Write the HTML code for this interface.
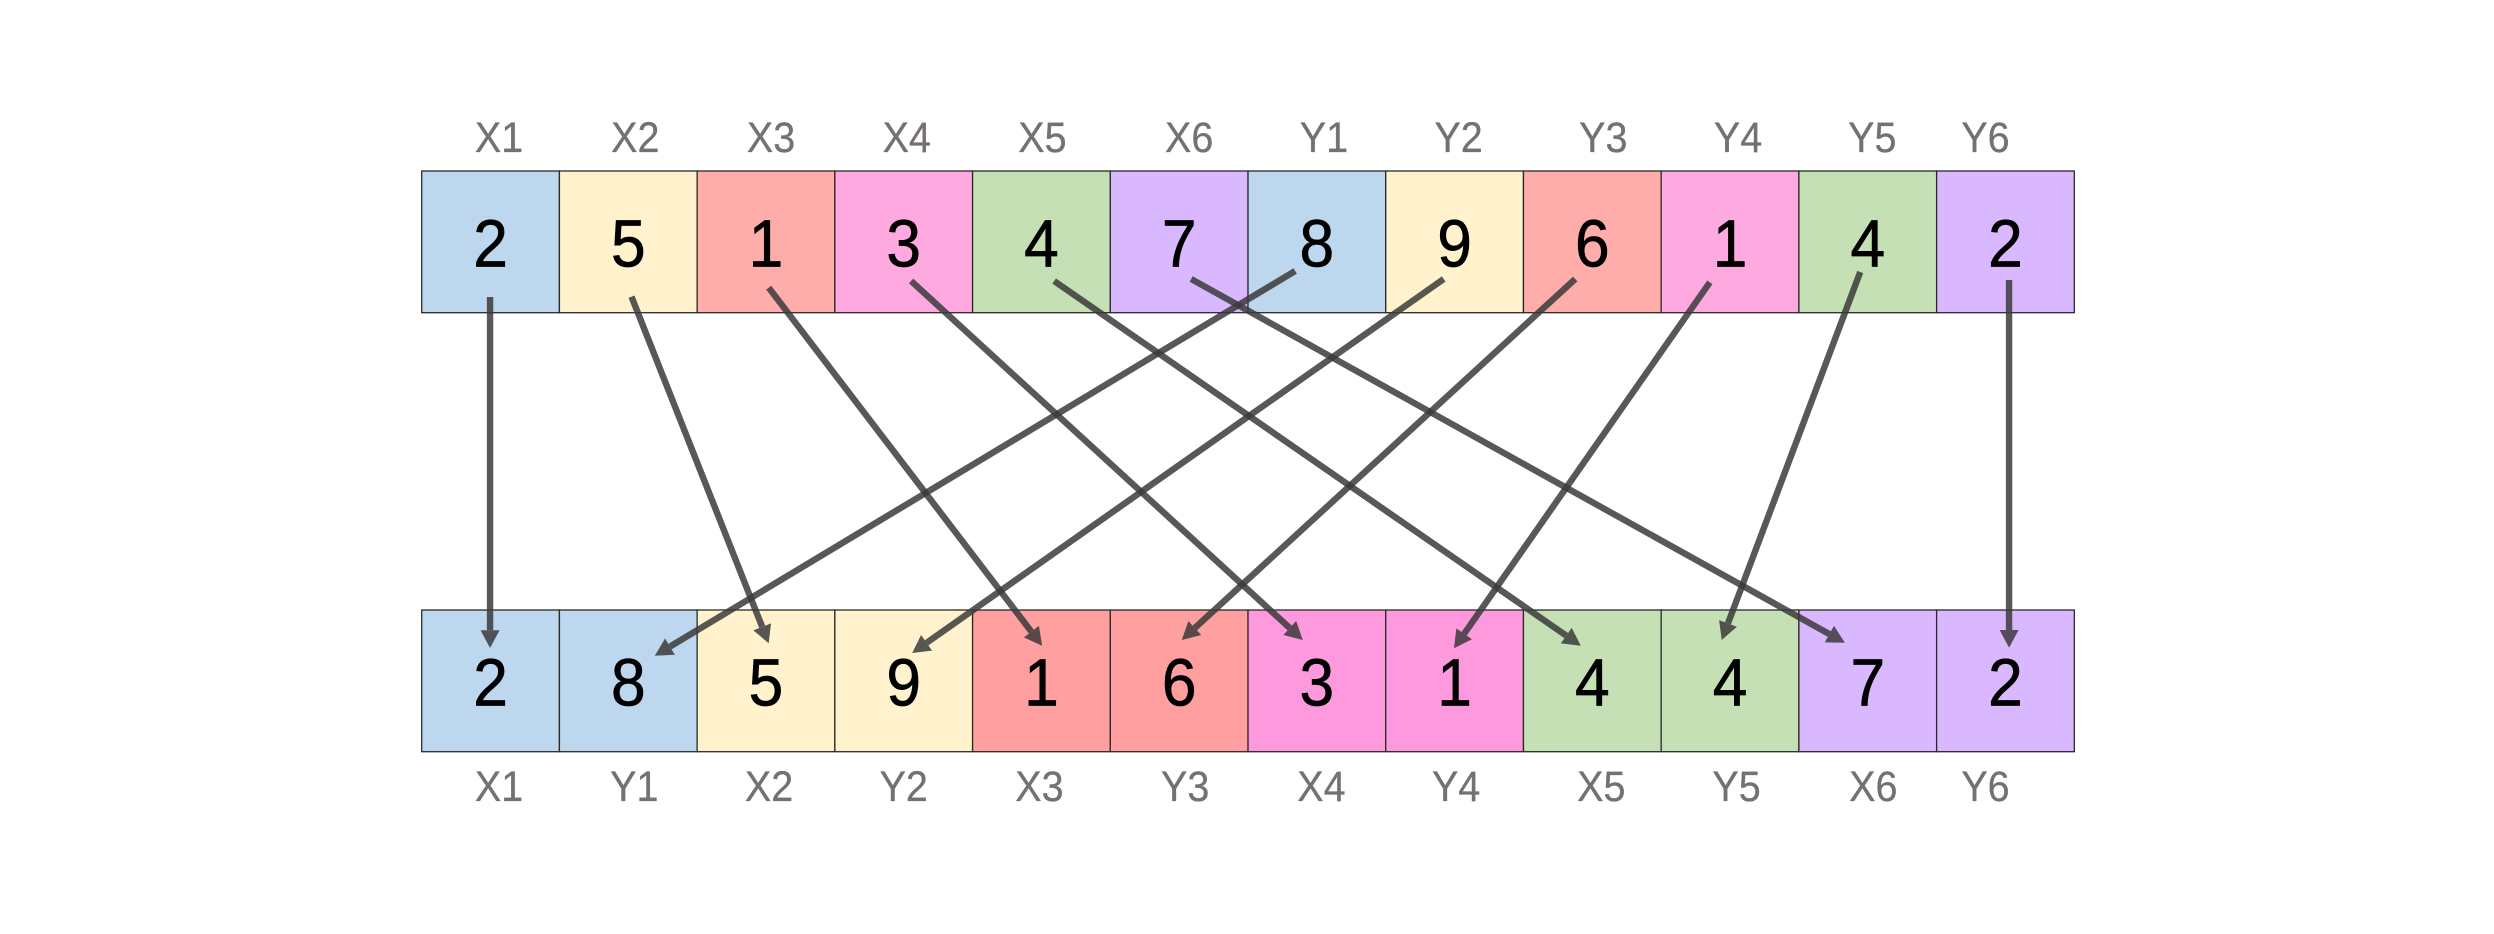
<!DOCTYPE html>
<html lang="en">
<head>
<meta charset="utf-8">
<title>Crossover diagram</title>
<style>
html,body{margin:0;padding:0;background:#fff;width:2494px;height:934px;overflow:hidden}
svg{display:block}
text{font-family:"Liberation Sans",sans-serif}
</style>
</head>
<body>
<svg id="diagram" xmlns="http://www.w3.org/2000/svg" width="2494" height="934" viewBox="0 0 2494 934"></svg>
<script>
// Data
const topLabels = ['X1','X2','X3','X4','X5','X6','Y1','Y2','Y3','Y4','Y5','Y6'];
const topValues = [2,5,1,3,4,7,8,9,6,1,4,2];
const bottomLabels = ['X1','Y1','X2','Y2','X3','Y3','X4','Y4','X5','Y5','X6','Y6'];
const bottomValues = [2,8,5,9,1,6,3,1,4,4,7,2];
const topColors = ['#BDD7EE','#FFF2CC','#FFADAA','#FFA9E1','#C5E0B4','#D9B8FF','#BDD7EE','#FFF2CC','#FFADAA','#FFA9E1','#C5E0B4','#D9B8FF'];
const bottomColors = ['#BDD7EE','#BDD7EE','#FFF2CC','#FFF2CC','#FF9F9F','#FF9F9F','#FF99DD','#FF99DD','#C5E0B4','#C5E0B4','#D9B8FF','#D9B8FF'];
const arrowSources = [0,1,2,3,4,5,6,7,8,9,10,11];
const arrowTargets = [0,2,4,6,8,10,1,3,5,7,9,11];

// Layout
const gridLeft = 421.7, cellW = 137.72, cellH = 141.7, topRowY = 171, bottomRowY = 610;
const topLabelNudge = [8.5,7,5,3,1,10,7,4,11,8,4.5,-20];
const bottomLabelNudge = [8.5,6,3,0,-2,6,4.5,1.5,9,6.5,5.5,-20];
const startDx = [-0.5,3.2,2.7,7.4,12.7,12,-21.7,-10.9,-17.1,-20.2,-7.5,3.6];
const startDy = [126,125.7,116.7,110,110,108,100,108,108,111.3,101,109];
const endDx = [-0.5,2.7,0.7,-14.1,-11.5,-22.9,26.5,8.4,2.6,-0.6,-8.3,3.6];
const endDy = [38,33.3,35.7,30,35.7,32.7,45.7,43,30,38.3,30,37.7];

const NS = 'http://www.w3.org/2000/svg';
const svg = document.getElementById('diagram');
const cx = i => gridLeft + cellW * (i + 0.5);
function mk(tag, attrs, parent) {
  const el = document.createElementNS(NS, tag);
  for (const k in attrs) el.setAttribute(k, attrs[k]);
  parent.appendChild(el);
  return el;
}

function drawRow(rowName, y, values, labels, colors, labelNudge, labelBaseline) {
  const g = mk('g', {}, svg);
  
  
  values.forEach((v, i) => {
    const r = mk('rect', {x: gridLeft + cellW * i, y: y, width: cellW, height: cellH, fill: colors[i], stroke: '#2a2a2a', 'stroke-width': 1.3}, g);
    
    
  });
  values.forEach((v, i) => {
    const t = mk('text', {transform: 'translate(' + cx(i) + ',' + (y + 95.7) + ') scale(0.93,1)', 'text-anchor': 'middle', 'font-size': 67, fill: '#000', stroke: '#000', 'stroke-width': 0.7}, g);
    t.textContent = v;
    
    
  });
  labels.forEach((l, i) => {
    const t = mk('text', {transform: 'translate(' + (cx(i) + labelNudge[i]) + ',' + labelBaseline + ') scale(0.93,1)', 'text-anchor': 'middle', 'font-size': 42.5, fill: '#767171', stroke: '#767171', 'stroke-width': 0.3}, g);
    t.textContent = l;
    
    
  });
}
drawRow('top', topRowY, topValues, topLabels, topColors, topLabelNudge, 152);
drawRow('bottom', bottomRowY, bottomValues, bottomLabels, bottomColors, bottomLabelNudge, 801);

const arrowsGroup = mk('g', {}, svg);


arrowSources.forEach((s, i) => {
  const t = arrowTargets[i];
  const x1 = cx(s) + startDx[i], y1 = topRowY + startDy[i];
  const x2 = cx(t) + endDx[i], y2 = bottomRowY + endDy[i];
  const dx = x2 - x1, dy = y2 - y1, len = Math.hypot(dx, dy);
  const ux = dx / len, uy = dy / len, headL = 17.7, headW = 9.5;
  const bx = x2 - ux * headL, by = y2 - uy * headL;
  const g = mk('g', {opacity: 0.85}, arrowsGroup);
  
  
  mk('line', {x1: x1, y1: y1, x2: bx, y2: by, stroke: '#3b3b3b', 'stroke-width': 6.4}, g);
  mk('polygon', {points: x2 + ',' + y2 + ' ' + (bx - uy * headW) + ',' + (by + ux * headW) + ' ' + (bx + uy * headW) + ',' + (by - ux * headW), fill: '#3b3b3b'}, g);
});
</script>
</body>
</html>
